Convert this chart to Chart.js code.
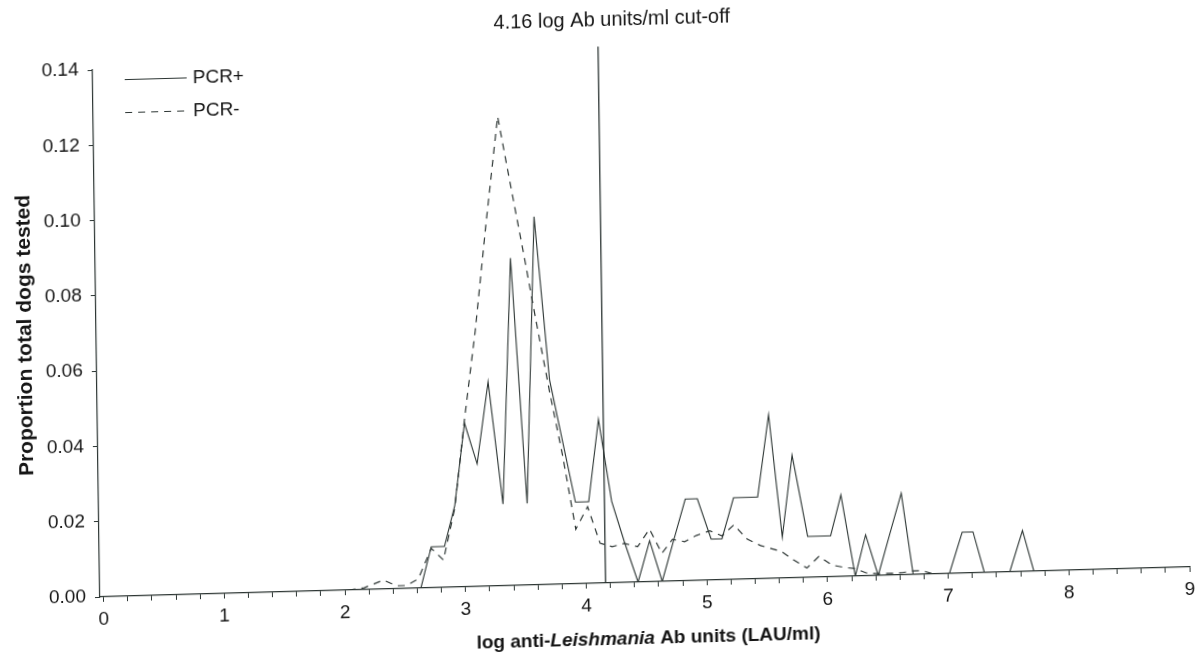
<!DOCTYPE html>
<html>
<head>
<meta charset="utf-8">
<script src="https://cdn.jsdelivr.net/npm/chart.js@4.4.1/dist/chart.umd.min.js"></script>
<style>
   html, body { margin: 0; padding: 0; background: #fff; }
   #wrap { width: 1202px; height: 665px; overflow: hidden; }
   /* the scanned figure is slightly slanted */
   #chart { display: block; transform-origin: 100px 597px; transform: matrix(1, -0.0275, 0.014, 1, 0, 0); }
</style>
</head>
<body>
<div id="wrap"><canvas id="chart" width="1202" height="665"></canvas></div>
<script>
// log anti-Leishmania Ab units and proportion of dogs tested
const posX = [2.53, 2.63, 2.72, 2.83, 2.92, 3.01, 3.11, 3.21, 3.32, 3.41, 3.52, 3.61, 3.72, 3.82, 3.92, 4.03,
   4.12, 4.22, 4.32, 4.43, 4.53, 4.63, 4.73, 4.83, 4.93, 5.04, 5.13, 5.23, 5.33, 5.43, 5.53, 5.63, 5.72, 5.84,
   5.93, 6.03, 6.12, 6.23, 6.32, 6.42, 6.52, 6.62, 6.71, 6.81, 6.91, 7.01, 7.12, 7.21, 7.3, 7.41, 7.51, 7.62,
   7.71, 7.81]
const posY = [0, 0, 0.0109, 0.0109, 0.0217, 0.0435, 0.0326, 0.0543, 0.0217, 0.087, 0.0217, 0.0978, 0.0543,
   0.038, 0.0217, 0.0217, 0.0435, 0.0217, 0.0109, 0, 0.0109, 0, 0.0109, 0.0217, 0.0217, 0.0109, 0.0109, 0.0217,
   0.0217, 0.0217, 0.0435, 0.0109, 0.0326, 0.0109, 0.0109, 0.0109, 0.0217, 0, 0.0109, 0, 0.0109, 0.0217, 0, 0,
   0, 0, 0.0109, 0.0109, 0, 0, 0, 0.0109, 0, 0]

const negX = [2.03, 2.16, 2.32, 2.43, 2.51, 2.61, 2.72, 2.82, 2.92, 3.01, 3.11, 3.21, 3.32, 3.41, 3.52, 3.61,
   3.72, 3.82, 3.92, 4.02, 4.12, 4.22, 4.32, 4.43, 4.53, 4.63, 4.72, 4.82, 4.92, 5.03, 5.13, 5.23, 5.34, 5.45,
   5.53, 5.62, 5.72, 5.83, 5.93, 6.04, 6.14, 6.23, 6.32, 6.42, 6.52, 6.62, 6.71, 6.79, 6.88, 6.99]
const negY = [0, 0.0005, 0.0024, 0.0008, 0.0008, 0.0025, 0.0105, 0.0073, 0.021, 0.0444, 0.068, 0.096, 0.1247,
   0.108, 0.088, 0.071, 0.051, 0.034, 0.0145, 0.0204, 0.0106, 0.0096, 0.0104, 0.0094, 0.014, 0.0075, 0.0111,
   0.0104, 0.012, 0.0131, 0.0117, 0.0145, 0.0106, 0.0088, 0.008, 0.0071, 0.0048, 0.0025, 0.0055, 0.0031, 0.0024,
   0.002, 0.0008, 0.0005, 0.0005, 0.0006, 0.001, 0.0009, 0, 0]

const seriesLabels = ["PCR+", "PCR-"]
const xTickValues = Array.from({ length: 46 }, (_, i) => Math.round(i * 2) / 10)
const cutoff = 4.16
const cutoffTop = 0.1425
const cutoffCaption = "4.16 log Ab units/ml cut-off"
const yTitle = "Proportion total dogs tested"
const xTitleParts = [
   ["log anti-", "bold"],
   ["Leishmania", "italic bold"],
   [" Ab units (LAU/ml)", "bold"],
]

const ink = "#2c3533"
const textInk = "#151515"
const family = "'Liberation Sans', Arial, sans-serif"

const toPoints = (xs, ys) => xs.map((x, i) => ({ x: x, y: ys[i] }))

// caption, legend and x title with the italic genus name
const extraText = {
   id: "extraText",
   afterDraw(chart) {
      const ctx = chart.ctx
      const area = chart.chartArea
      const xs = chart.scales.x
      ctx.save()
      ctx.fillStyle = textInk
      ctx.textBaseline = "middle"

      ctx.font = `20px ${family}`
      ctx.textAlign = "center"
      ctx.fillText(cutoffCaption, xs.getPixelForValue(cutoff) + 14, area.top - 36)

      ctx.textAlign = "left"
      ctx.font = `19px ${family}`
      for (let i = 0; i < 2; i++) {
         const ds = chart.data.datasets[i]
         const y = area.top + 10.5 + i * 33
         ctx.beginPath()
         ctx.strokeStyle = ds.borderColor
         ctx.lineWidth = ds.borderWidth
         ctx.setLineDash(ds.borderDash || [])
         ctx.moveTo(area.left + 32, y)
         ctx.lineTo(area.left + 94, y)
         ctx.stroke()
         ctx.fillText(ds.label, area.left + 100, y)
      }
      ctx.setLineDash([])

      let total = 0
      const widths = xTitleParts.map(([txt, style]) => {
         ctx.font = `${style} 19px ${family}`
         const w = ctx.measureText(txt).width
         total += w
         return w
      })
      let x = (area.left + area.right) / 2 + 3 - total / 2
      const y = area.bottom + 57
      xTitleParts.forEach(([txt, style], i) => {
         ctx.font = `${style} 19px ${family}`
         ctx.fillText(txt, x, y)
         x += widths[i]
      })
      ctx.restore()
   },
}

const ctxChart = document.getElementById("chart").getContext("2d")
const chart = new Chart(ctxChart, {
   type: "line",
   data: {
      datasets: [
         {
            label: seriesLabels[0],
            data: toPoints(posX, posY),
            borderColor: ink,
            borderWidth: 1.1,
            pointRadius: 0,
            tension: 0,
         },
         {
            label: seriesLabels[1],
            data: toPoints(negX, negY),
            borderColor: ink,
            borderWidth: 1.2,
            borderDash: [7, 6],
            pointRadius: 0,
            tension: 0,
         },
         {
            label: "cut-off",
            data: [{ x: cutoff, y: 0 }, { x: cutoff, y: cutoffTop }],
            borderColor: ink,
            borderWidth: 1.3,
            pointRadius: 0,
            clip: false,
         },
      ],
   },
   options: {
      responsive: false,
      animation: false,
      devicePixelRatio: 1,
      layout: { padding: { top: 70, right: 12, left: 0, bottom: 0 } },
      plugins: {
         legend: { display: false },
         tooltip: { enabled: false },
      },
      scales: {
         x: {
            type: "linear",
            min: -0.03,
            max: 9,
            afterFit: scale => { scale.height = 68 },
            afterBuildTicks: scale => { scale.ticks = xTickValues.map(v => ({ value: v })) },
            grid: { drawOnChartArea: false, drawTicks: true, tickLength: 5, color: ink },
            border: { display: true, color: ink, width: 1.2 },
            ticks: {
               autoSkip: false,
               maxRotation: 0,
               padding: 6,
               color: textInk,
               font: { size: 19, family: family },
               callback: v => (Math.abs(v - Math.round(v)) < 1e-6 ? String(Math.round(v)) : ""),
            },
         },
         y: {
            min: 0,
            max: 0.14,
            afterFit: scale => { scale.width = 100 },
            grid: { drawOnChartArea: false, drawTicks: true, tickLength: 5, color: ink },
            border: { display: true, color: ink, width: 1.2 },
            ticks: {
               stepSize: 0.02,
               padding: 9,
               color: textInk,
               font: { size: 19, family: family },
               callback: v => v.toFixed(2),
            },
            title: {
               display: true,
               text: yTitle,
               color: textInk,
               font: { size: 21, weight: "bold", family: family },
               padding: { top: 17, bottom: 0 },
            },
         },
      },
   },
   plugins: [extraText],
})
</script>
</body>
</html>
